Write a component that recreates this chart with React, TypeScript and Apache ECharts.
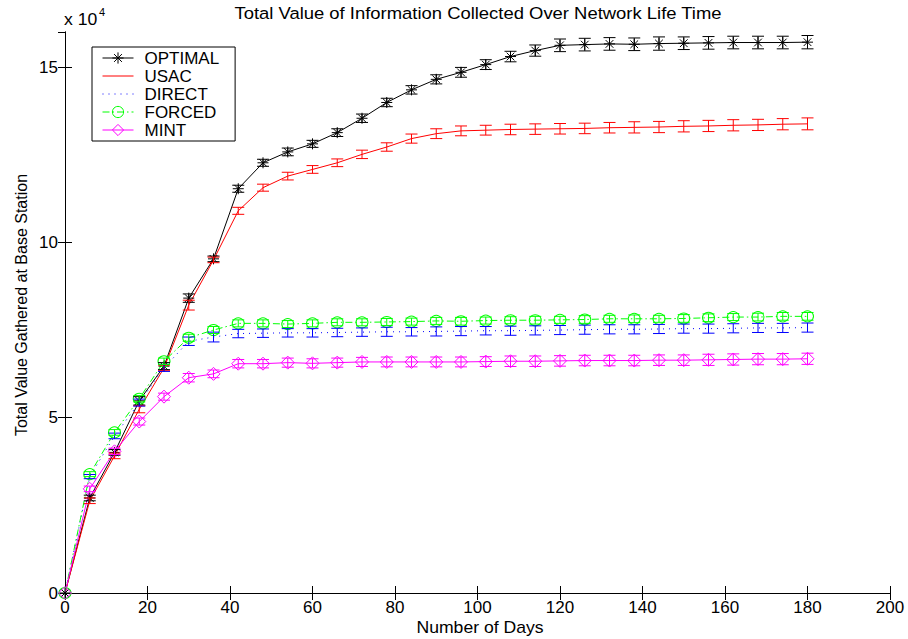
import React, { useEffect, useRef } from "react";
import * as echarts from "echarts";

const DAYS = [0, 6, 12, 18, 24, 30, 36, 42, 48, 54, 60, 66, 72, 78, 84, 90, 96, 102, 108, 114, 120, 126, 132, 138, 144, 150, 156, 162, 168, 174, 180];

const OPTIMAL = [0, 27100, 40100, 54800, 64700, 84100, 95300, 115300, 122700, 125800, 128100, 131300, 135400, 139900, 143500, 146500, 148500, 150700, 153000, 154700, 156200, 156400, 156600, 156500, 156700, 156800, 156900, 157000, 157000, 157000, 157100];
const USAC = [0, 26300, 39100, 52400, 64200, 82100, 95000, 109000, 115600, 118900, 120800, 122700, 125100, 127200, 129600, 131000, 131800, 132000, 132200, 132300, 132400, 132500, 132700, 132800, 132900, 133100, 133200, 133400, 133500, 133700, 133800];
const DIRECT = [0, 33200, 44800, 54300, 64200, 71800, 73000, 74000, 74100, 74200, 74200, 74300, 74400, 74500, 74500, 74600, 74700, 74800, 74800, 74900, 75000, 75100, 75200, 75200, 75300, 75400, 75400, 75500, 75600, 75600, 75700];
const FORCED = [0, 33900, 45800, 55400, 66100, 72800, 75000, 76900, 76900, 76700, 76900, 77200, 77200, 77300, 77400, 77600, 77500, 77700, 77800, 77800, 77900, 78000, 78200, 78200, 78200, 78300, 78500, 78700, 78700, 78900, 78900];
const MINT = [0, 29700, 40400, 48900, 56000, 61400, 62500, 65400, 65400, 65700, 65500, 65700, 65900, 65900, 65900, 65900, 65900, 66000, 66100, 66100, 66200, 66300, 66300, 66300, 66400, 66400, 66500, 66600, 66700, 66700, 66800];

const OPTIMAL_ERR = [0, 800, 800, 1200, 1000, 1200, 800, 1000, 1000, 1100, 1000, 1100, 1200, 1200, 1200, 1300, 1400, 1400, 1500, 1600, 1800, 1800, 1800, 1800, 1900, 1800, 1800, 1800, 1800, 1800, 1900];
const USAC_ERR = [0, 800, 800, 1000, 800, 1400, 800, 1000, 1000, 1100, 1100, 1100, 1200, 1200, 1300, 1400, 1400, 1400, 1500, 1500, 1500, 1500, 1500, 1600, 1600, 1600, 1600, 1600, 1600, 1600, 1700];
const DIRECT_ERR = [0, 600, 800, 1000, 1000, 1200, 1400, 1200, 1200, 1200, 1200, 1200, 1200, 1300, 1200, 1300, 1300, 1200, 1300, 1300, 1300, 1300, 1300, 1300, 1300, 1300, 1300, 1300, 1300, 1300, 1300];
const FORCED_ERR = [0, 700, 800, 900, 900, 1000, 1000, 1000, 1000, 1000, 1000, 1000, 1000, 1000, 1000, 1000, 1100, 1000, 1000, 1100, 1000, 1100, 1000, 1100, 1000, 1100, 1100, 1000, 1100, 1100, 1100];
const MINT_ERR = [0, 800, 900, 1000, 1000, 1200, 1100, 1200, 1200, 1300, 1300, 1300, 1300, 1400, 1400, 1400, 1400, 1400, 1500, 1500, 1500, 1500, 1500, 1500, 1500, 1500, 1600, 1600, 1600, 1600, 1600];

const X_TICKS = [0, 20, 40, 60, 80, 100, 120, 140, 160, 180, 200];
const Y_TICKS = [0, 50000, 100000, 150000];

const TITLE = "Total Value of Information Collected Over Network Life Time";
const X_NAME = "Number of Days";
const Y_NAME = "Total Value Gathered at Base Station";

const FONT = "'Liberation Sans', Arial, Helvetica, sans-serif";
const ASTERISK = "path://M6,0L6,12M0,6L12,6M1.8,1.8L10.2,10.2M1.8,10.2L10.2,1.8";
const CLEAR = "rgba(0,0,0,0)";

type Def = {
  name: string;
  values: number[];
  errs: number[];
  color: string;
  lineType: any;
  symbol: string;
  symbolSize: any;
  marker: boolean;
};

const DEFS: Def[] = [
  { name: "OPTIMAL", values: OPTIMAL, errs: OPTIMAL_ERR, color: "#000000", lineType: "solid", symbol: ASTERISK, symbolSize: 11, marker: true },
  { name: "USAC", values: USAC, errs: USAC_ERR, color: "#ff0000", lineType: "solid", symbol: "circle", symbolSize: 1, marker: false },
  { name: "DIRECT", values: DIRECT, errs: DIRECT_ERR, color: "#0000ff", lineType: [1, 5], symbol: "circle", symbolSize: 1, marker: false },
  { name: "FORCED", values: FORCED, errs: FORCED_ERR, color: "#00ff00", lineType: [7, 3, 1.5, 3], symbol: "circle", symbolSize: [12, 11], marker: true },
  { name: "MINT", values: MINT, errs: MINT_ERR, color: "#ff00ff", lineType: "solid", symbol: "diamond", symbolSize: 13, marker: true },
];

export default function App() {
  const ref = useRef<HTMLDivElement>(null);

  useEffect(() => {
    if (!ref.current) return;
    const chart = echarts.init(ref.current, undefined, { renderer: "svg" });

    const lineSeries = DEFS.map((d) => ({
      type: "line",
      name: d.name,
      data: DAYS.map((x, i) => [x, d.values[i]]),
      symbol: d.symbol,
      symbolSize: d.symbolSize,
      showSymbol: d.marker,
      lineStyle: { color: d.color, width: 1, type: d.lineType, opacity: 1 },
      itemStyle: { color: CLEAR, borderColor: d.color, borderWidth: 1, opacity: d.marker ? 1 : 0 },
      color: d.color,
      z: 2,
      silent: true,
      emphasis: { disabled: true },
    }));

    const errSeries = DEFS.map((d) => ({
      type: "custom",
      name: "err-" + d.name,
      data: DAYS.map((x, i) => [x, d.values[i], d.errs[i]]),
      z: 3,
      silent: true,
      renderItem: (params: any, api: any) => {
        const x = api.value(0);
        const y = api.value(1);
        const e = api.value(2);
        if (!e) return { type: "group", children: [] };
        const top = api.coord([x, y + e]);
        const bot = api.coord([x, y - e]);
        const hw = 6;
        const style = { stroke: d.color, lineWidth: 1, fill: null };
        return {
          type: "group",
          children: [
            { type: "line", shape: { x1: top[0], y1: top[1], x2: bot[0], y2: bot[1] }, style },
            { type: "line", shape: { x1: top[0] - hw, y1: top[1], x2: top[0] + hw, y2: top[1] }, style },
            { type: "line", shape: { x1: bot[0] - hw, y1: bot[1], x2: bot[0] + hw, y2: bot[1] }, style },
          ],
        };
      },
    }));

    const axisCommon = {
      axisLine: { show: true, lineStyle: { color: "#000", width: 1 } },
      axisTick: { show: true, inside: true, length: 7, lineStyle: { color: "#000", width: 1 } },
      splitLine: { show: false },
    };

    const option: any = {
      animation: false,
      backgroundColor: "#fff",
      grid: { left: 65, right: 18, top: 32, bottom: 46, containLabel: false },
      xAxis: [
        {
          type: "value",
          min: X_TICKS[0],
          max: X_TICKS[X_TICKS.length - 1],
          interval: 20,
          position: "bottom",
          ...axisCommon,
          axisLabel: { color: "#000", fontSize: 17, fontFamily: FONT, margin: 6 },
        },
        {
          type: "value",
          min: X_TICKS[0],
          max: X_TICKS[X_TICKS.length - 1],
          interval: 20,
          position: "top",
          ...axisCommon,
          axisLabel: { show: false },
        },
      ],
      yAxis: [
        {
          type: "value",
          min: Y_TICKS[0],
          max: 160000,
          interval: 50000,
          position: "left",
          ...axisCommon,
          axisLabel: {
            color: "#000",
            fontSize: 17,
            fontFamily: FONT,
            margin: 7,
            showMaxLabel: false,
            formatter: (v: number) => (Y_TICKS.indexOf(v) >= 0 ? String(v / 10000) : ""),
          },
        },
        {
          type: "value",
          min: Y_TICKS[0],
          max: 160000,
          interval: 50000,
          position: "right",
          ...axisCommon,
          axisLabel: { show: false },
        },
      ],
      legend: {
        orient: "vertical",
        left: 92,
        top: 47,
        padding: [2, 16, 2, 10],
        itemWidth: 31,
        itemHeight: 14,
        itemGap: 0,
        backgroundColor: "#fff",
        borderColor: "#000",
        borderWidth: 1,
        borderRadius: 0,
        selectedMode: false,
        itemStyle: { borderWidth: 1 },
        lineStyle: { width: 1 },
        textStyle: { color: "#000", fontSize: 17, fontFamily: FONT, lineHeight: 18, padding: [0, 0, 0, 6] },
        data: DEFS.map((d) => ({ name: d.name })),
      },
      graphic: [
        {
          type: "text",
          x: 478,
          y: 13,
          scaleX: 1.085,
          style: { text: TITLE, fill: "#000", font: `17px ${FONT}`, textAlign: "center", textVerticalAlign: "middle" },
        },
        {
          type: "text",
          x: 480,
          y: 628,
          scaleX: 1.1,
          style: { text: X_NAME, fill: "#000", font: `16px ${FONT}`, textAlign: "center", textVerticalAlign: "middle" },
        },
        {
          type: "text",
          x: 21,
          y: 305,
          rotation: Math.PI / 2,
          style: { text: Y_NAME, fill: "#000", font: `16px ${FONT}`, textAlign: "center", textVerticalAlign: "middle" },
        },
        {
          type: "text",
          x: 64,
          y: 20,
          scaleX: 1.1,
          style: { text: "x 10", fill: "#000", font: `16px ${FONT}`, textAlign: "left", textVerticalAlign: "middle" },
        },
        {
          type: "text",
          x: 99,
          y: 12,
          style: { text: "4", fill: "#000", font: `11px ${FONT}`, textAlign: "left", textVerticalAlign: "middle" },
        },
      ],
      series: [...lineSeries, ...errSeries],
    };

    chart.setOption(option);
    return () => chart.dispose();
  }, []);

  return (
    <div
      ref={ref}
      style={{ position: "fixed", left: 0, top: 0, width: 908, height: 639, background: "#fff" }}
    />
  );
}
